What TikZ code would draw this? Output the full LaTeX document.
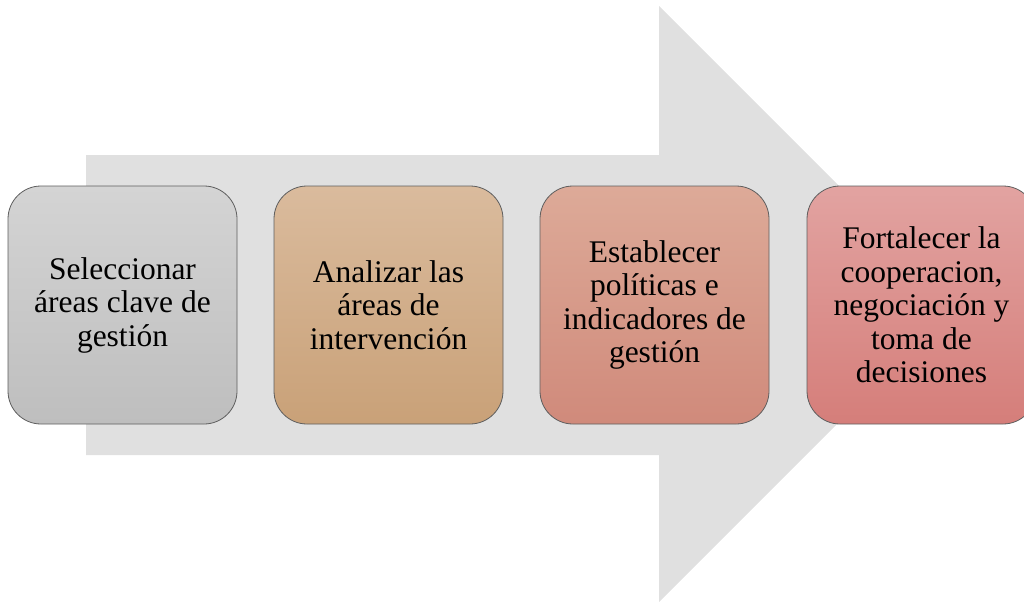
\documentclass[tikz,border=0pt]{standalone}
\usepackage{fontspec}
\setmainfont{Liberation Serif}
\definecolor{arrowgray}{HTML}{E0E0E0}
\definecolor{bordergray}{HTML}{5E5E5E}
\definecolor{aTop}{HTML}{D4D4D4}\definecolor{aBot}{HTML}{BEBEBE}
\definecolor{bTop}{HTML}{DABB9D}\definecolor{bBot}{HTML}{C9A178}
\definecolor{cTop}{HTML}{DDAA98}\definecolor{cBot}{HTML}{D08A7B}
\definecolor{dTop}{HTML}{E2A3A1}\definecolor{dBot}{HTML}{D57E7A}
\tikzset{
  stepbox/.style={draw=bordergray, line width=0.8pt, rounded corners=33pt,
    minimum width=229pt, minimum height=238pt, inner sep=0pt,
    align=center,
    font=\fontsize{31.5}{33.5}\selectfont},
}
\begin{document}
\begin{tikzpicture}[x=1pt,y=-1pt]
\useasboundingbox (0,0) rectangle (1024,602);
\clip (0,0) rectangle (1024,602);
\fill[arrowgray] (86,155) -- (659,155) -- (659,6) -- (957,304) -- (659,602) -- (659,455) -- (86,455) -- cycle;
\node[stepbox, top color=aTop, bottom color=aBot] (s1) at (122.5,305) {Seleccionar\\áreas clave de\\gestión};
\node[stepbox, top color=bTop, bottom color=bBot] (s2) at (388.5,305) {Analizar las\\áreas de\\intervención};
\node[stepbox, top color=cTop, bottom color=cBot] (s3) at (654.5,305) {Establecer\\políticas e\\indicadores de\\gestión};
\node[stepbox, top color=dTop, bottom color=dBot] (s4) at (921.5,305) {Fortalecer la\\cooperacion,\\negociación y\\toma de\\decisiones};
\end{tikzpicture}
\end{document}
